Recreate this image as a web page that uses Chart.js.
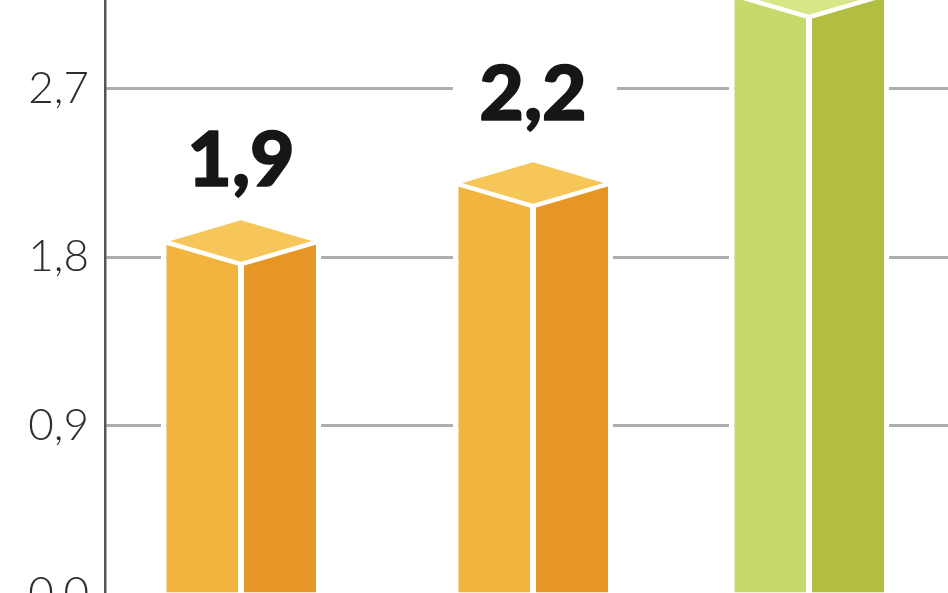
<!DOCTYPE html>
<html>
<head>
<meta charset="utf-8">
<script src="https://cdn.jsdelivr.net/npm/chart.js@4"></script>
<style>
  html, body { margin: 0; padding: 0; background: #fff; overflow: hidden; }
  canvas { display: block; }
</style>
</head>
<body>
<canvas id="chart" width="948" height="593"></canvas>
<script>
const categories = ['A', 'B', 'C'];
const barValues = [1.88, 2.19, 3.2];
const tickValues = [0, 0.9, 1.8, 2.7];

// look of the boxes
const leftColors = ['#F3B43F', '#F3B43F', '#C6D96B'];
const rightColors = ['#E69624', '#E69624', '#B2BE42'];
const topColors = ['#F6C658', '#F6C658', '#D8E688'];
const barShift = [-4.5, 6.5, 1.5];
const labelGap = [56, 64, 60];

const commaFormat = v => v.toFixed(1).replace('.', ',');

const boxPlugin = {
  id: 'boxes',
  afterDatasetsUpdate(chart) {
    chart.data.datasets.forEach((ds, d) => {
      chart.getDatasetMeta(d).data.forEach((el, i) => { el.x += barShift[i]; });
    });
  },
  afterDatasetsDraw(chart) {
    const ctx = chart.ctx;
    const left = chart.getDatasetMeta(0).data;
    left.forEach((el, i) => {
      const cx = el.x + el.width / 2;
      const halfW = 75, halfH = 22;
      // top face
      ctx.save();
      ctx.beginPath();
      ctx.moveTo(cx - halfW, el.y);
      ctx.lineTo(cx, el.y - halfH);
      ctx.lineTo(cx + halfW, el.y);
      ctx.lineTo(cx, el.y + halfH);
      ctx.closePath();
      ctx.fillStyle = topColors[i];
      ctx.fill();
      ctx.beginPath();
      ctx.moveTo(cx - halfW, el.y);
      ctx.lineTo(cx, el.y + halfH);
      ctx.lineTo(cx + halfW, el.y);
      ctx.strokeStyle = '#fff';
      ctx.lineWidth = 4.5;
      ctx.stroke();
      // value label, its white box cuts the grid line
      const base = el.y - labelGap[i];
      ctx.fillStyle = '#fff';
      ctx.fillRect(cx - 80, base - 62, 164, 80);
      ctx.fillStyle = '#161616';
      ctx.strokeStyle = '#161616';
      ctx.lineWidth = 1.5;
      ctx.lineJoin = 'round';
      ctx.font = '900 77px Lato';
      ctx.textAlign = 'center';
      ctx.textBaseline = 'alphabetic';
      ctx.fillText(commaFormat(barValues[i]), cx, base);
      ctx.strokeText(commaFormat(barValues[i]), cx, base);
      ctx.restore();
    });
  }
};

new Chart(document.getElementById('chart'), {
  type: 'bar',
  plugins: [boxPlugin],
  data: {
    labels: categories,
    datasets: [
      {
        data: barValues,
        backgroundColor: leftColors,
        borderColor: '#fff',
        borderWidth: { left: 5.5, right: 3, top: 0, bottom: 0 },
        borderRadius: { bottomLeft: 5 },
        borderSkipped: false,
        inflateAmount: 0,
        clip: false
      },
      {
        data: barValues,
        backgroundColor: rightColors,
        borderColor: '#fff',
        borderWidth: { left: 3, right: 5, top: 0, bottom: 0 },
        borderRadius: { bottomRight: 5 },
        borderSkipped: false,
        inflateAmount: 0,
        clip: false
      }
    ]
  },
  options: {
    responsive: false,
    animation: false,
    barThickness: 80,
    layout: { padding: 0 },
    plugins: { legend: { display: false }, tooltip: { enabled: false } },
    scales: {
      x: { display: false },
      y: {
        // the picture is cut just under the zero line
        min: 0.006,
        max: 3.174,
        afterFit(scale) {
          scale.width = 105;
          scale.paddingTop = 0;
          scale.paddingBottom = 0;
        },
        afterBuildTicks(scale) {
          scale.ticks = tickValues.map(value => ({ value }));
        },
        ticks: {
          includeBounds: false,
          padding: 16,
          color: '#2e2e2e',
          font: { family: 'Lato', weight: 300, size: 44 },
          callback: v => commaFormat(v)
        },
        grid: { color: '#aeaeae', lineWidth: 3, drawTicks: false },
        border: { color: '#555', width: 2.5 }
      }
    }
  }
});
</script>
</body>
</html>
